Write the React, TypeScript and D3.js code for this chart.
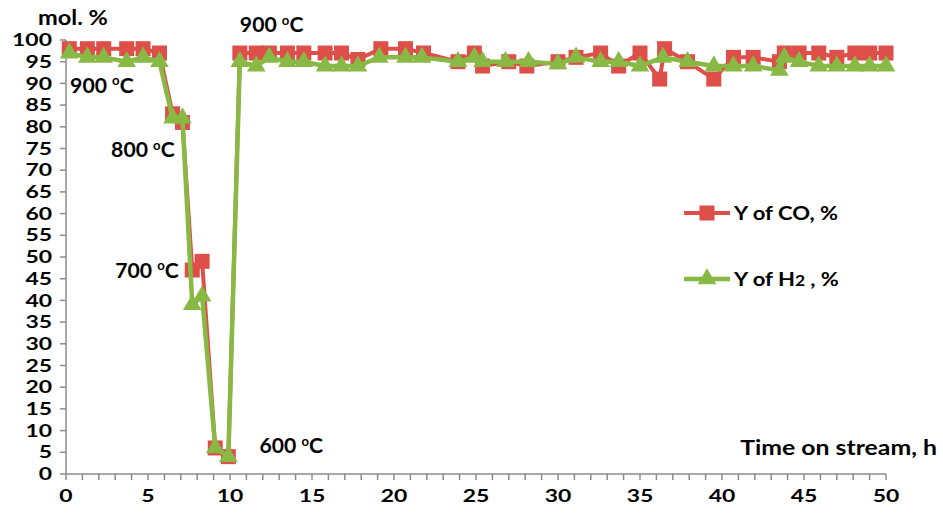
import React from "react";
import * as d3 from "d3";

// ---- data ----
const coTime = [0.2, 1.3, 2.3, 3.7, 4.7, 5.7, 6.5, 7.1, 7.7, 8.3, 9.1, 9.9, 10.6, 11.6, 12.4, 13.5, 14.5, 15.8, 16.8, 17.8, 19.2, 20.7, 21.8, 23.9, 24.9, 25.4, 27.0, 28.1, 30.0, 31.1, 32.6, 33.7, 35.0, 36.2, 36.5, 37.9, 39.5, 40.7, 41.9, 43.5, 43.8, 44.7, 45.9, 47.0, 48.1, 49.0, 50.0];
const coValue = [98, 98, 98, 98, 98, 97, 83, 81, 47, 49, 6, 4, 97, 97, 97, 97, 97, 97, 97, 95.5, 98, 98, 97, 95, 97, 94, 95, 94, 95, 96, 97, 94, 97, 91, 98, 95, 91, 96, 96, 95, 97, 97, 97, 96, 97, 97, 97];
const h2Time = [0.2, 1.3, 2.3, 3.7, 4.7, 5.7, 6.5, 7.1, 7.7, 8.3, 9.1, 9.9, 10.6, 11.6, 12.4, 13.5, 14.5, 15.8, 16.8, 17.8, 19.1, 20.7, 21.7, 23.9, 24.9, 25.4, 26.8, 28.2, 30.0, 31.1, 32.6, 33.7, 35.0, 36.4, 37.9, 39.5, 40.7, 41.9, 43.5, 43.8, 44.7, 45.9, 47.0, 48.1, 49.0, 50.0];
const h2Value = [97, 96, 96, 95, 96, 95, 82, 82, 39, 41, 6, 4, 95, 94, 96, 95, 95, 94, 94, 94, 96, 96, 96, 95, 96, 95, 95, 95, 94.5, 96, 95, 95, 94, 96, 95, 94, 94, 94, 93, 96, 95, 94, 94, 94, 94, 94];
const xTickLabels = [0, 5, 10, 15, 20, 25, 30, 35, 40, 45, 50];
const yTickLabels = [0, 5, 10, 15, 20, 25, 30, 35, 40, 45, 50, 55, 60, 65, 70, 75, 80, 85, 90, 95, 100];
const tempLabels = ["900", "900", "800", "700", "600"];
const tempAt = [[10.6, 101.8], [0.25, 87.8], [2.75, 73], [3.0, 45.2], [11.8, 4.8]];
const seriesNames = ["Y of CO, %", "Y of H2, %"];

const W = 943, H = 515;
const FONT = "Lato, 'Open Sans', sans-serif";
const RED = "#DF4F49";
const GREEN = "#88B944";
const AXIS = "#8C8C8C";

// stretched text helper (the reference text is horizontally wide)
function T(props: { x: number; y: number; sx: number; size: number; anchor?: string; dy?: string; children: React.ReactNode }) {
  const { x, y, sx, size, anchor, dy, children } = props;
  return (
    <text transform={`translate(${x},${y}) scale(${sx},1)`} textAnchor={anchor || "start"} dy={dy} fontSize={size} fontWeight={700} fill="#000">
      {children}
    </text>
  );
}

export default function App() {
  const x = d3.scaleLinear().domain([0, 50]).range([66, 886]);
  const y = d3.scaleLinear().domain([0, 100]).range([474, 40]);
  const co = coTime.map((t, i) => [t, coValue[i]] as [number, number]);
  const h2 = h2Time.map((t, i) => [t, h2Value[i]] as [number, number]);
  const line = d3.line<[number, number]>().x(d => x(d[0])).y(d => y(d[1]));
  const tri = d3.symbol().type(d3.symbolTriangle).size(150)() as string;
  const sq = 15;
  const minor = d3.range(0, 51, 1);

  const deg = (num: string, size: number) => (
    <>
      {num + " "}
      <tspan fontSize={size * 0.62} dy={-size * 0.38}>o</tspan>
      <tspan dy={size * 0.38}>C</tspan>
    </>
  );

  return (
    <svg width={W} height={H} style={{ position: "absolute", left: 0, top: 0, background: "#fff" }} fontFamily={FONT}>
      {/* axes */}
      <line x1={x(0)} x2={x(0)} y1={y(0)} y2={y(100)} stroke={AXIS} strokeWidth={1.5} />
      <line x1={x(0)} x2={x(50)} y1={y(0)} y2={y(0)} stroke={AXIS} strokeWidth={1.5} />
      {yTickLabels.map(v => (
        <g key={"y" + v}>
          <line x1={x(0) - 6} x2={x(0)} y1={y(v)} y2={y(v)} stroke={AXIS} strokeWidth={1.5} />
          <T x={52} y={y(v)} dy="0.36em" anchor="end" size={17} sx={1.35}>{v}</T>
        </g>
      ))}
      {minor.map(t => (
        <line key={"xt" + t} x1={x(t)} x2={x(t)} y1={y(0)} y2={y(0) + 6} stroke={AXIS} strokeWidth={1.5} />
      ))}
      {xTickLabels.map(t => (
        <T key={"x" + t} x={x(t)} y={502} anchor="middle" size={17} sx={1.35}>{t}</T>
      ))}
      <T x={38} y={25} size={20} sx={1.18}>mol. %</T>
      <T x={937} y={455} anchor="end" size={20} sx={1.24}>Time on stream, h</T>

      {/* CO series */}
      <path d={line(co) as string} fill="none" stroke={RED} strokeWidth={4} strokeLinejoin="round" />
      {co.map((d, i) => (
        <rect key={"c" + i} x={x(d[0]) - sq / 2} y={y(d[1]) - sq / 2} width={sq} height={sq} fill={RED} />
      ))}
      {/* H2 series */}
      <path d={line(h2) as string} fill="none" stroke={GREEN} strokeWidth={4.5} strokeLinejoin="round" />
      {h2.map((d, i) => (
        <path key={"h" + i} d={tri} transform={`translate(${x(d[0])},${y(d[1])})`} fill={GREEN} />
      ))}

      {/* temperature annotations */}
      {tempLabels.map((s, i) => (
        <T key={"tl" + i} x={x(tempAt[i][0])} y={y(tempAt[i][1])} size={20} sx={1.06}>{deg(s, 20)}</T>
      ))}

      {/* legend */}
      <g>
        <line x1={684} x2={730} y1={213} y2={213} stroke={RED} strokeWidth={4} />
        <rect x={707 - sq / 2} y={213 - sq / 2} width={sq} height={sq} fill={RED} />
        <T x={734} y={213} dy="0.36em" size={19} sx={1.16}>{seriesNames[0]}</T>
        <line x1={684} x2={730} y1={279} y2={279} stroke={GREEN} strokeWidth={4.5} />
        <path d={tri} transform="translate(707,279)" fill={GREEN} />
        <T x={734} y={279} dy="0.36em" size={19} sx={1.16}>
          {"Y of H"}<tspan fontSize={15}>2</tspan>{" , %"}
        </T>
      </g>
    </svg>
  );
}
